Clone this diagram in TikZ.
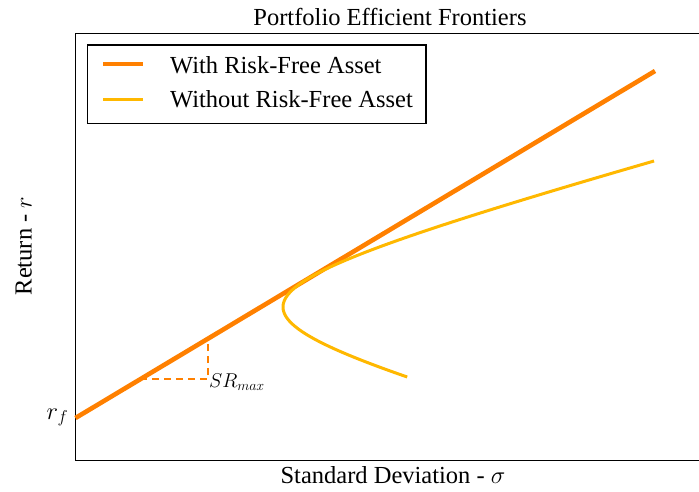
\documentclass[tikz,border=0pt]{standalone}
\usepackage{fix-cm}
\usepackage{fontspec}
\setmainfont{Liberation Serif}
\definecolor{lineorange}{RGB}{255,128,0}
\definecolor{lineyellow}{RGB}{255,184,0}
\begin{document}
\begin{tikzpicture}[x=1pt,y=-1pt,
  txt/.style={inner sep=0pt,font=\fontsize{24.5}{29}\selectfont},
  frontline/.style={lineorange,line width=4.6pt},
  hypline/.style={lineyellow,line width=3pt},
  spine/.style={black,line width=1.3pt},
  dashline/.style={lineorange,line width=1.6pt,dash pattern=on 7pt off 5pt}]
\useasboundingbox (0,0) rectangle (699,491);
% axes frame
\draw[spine] (699,33.3) -- (75.5,33.3) -- (75.5,460.6) -- (699,460.6);
% capital market line
\coordinate (rf) at (75.5,418);
\coordinate (cmlend) at (655,71);
\draw[frontline] (rf) -- (cmlend);
% efficient frontier (hyperbola)
\draw[hypline] plot[domain=-14.6:7,samples=120,smooth]
  ({75+10*sqrt(432.64+13.7*(\x)^2)},{307+10*\x});
% Sharpe ratio triangle
\coordinate (sa) at (140,379);
\coordinate (sb) at (208,379);
\coordinate (sc) at (208,339);
\draw[dashline] (sa) -- (sb) -- (sc);
\node[txt,anchor=base west,font=\fontsize{20}{24}\selectfont] (srlab) at (209,387) {$SR_{max}$};
% labels
\node[txt,anchor=base] (title) at (390,25) {Portfolio Efficient Frontiers};
\node[txt,anchor=base] (xlab) at (393,483) {Standard Deviation - $\sigma$};
\node[txt,anchor=base,rotate=90] (ylab) at (31.7,246) {Return - $r$};
\node[txt,anchor=base west] (rflab) at (46.5,419) {$r_f$};
% legend
\draw[spine] (87.7,45) rectangle (426,123.3);
\coordinate (l1a) at (103,64); \coordinate (l1b) at (143,64);
\coordinate (l2a) at (103,99); \coordinate (l2b) at (143,99);
\draw[frontline] (l1a) -- (l1b);
\draw[hypline] (l2a) -- (l2b);
\node[txt,anchor=base west] (leg1) at (170,73.3) {With Risk-Free Asset};
\node[txt,anchor=base west] (leg2) at (170,107.5) {Without Risk-Free Asset};
\end{tikzpicture}
\end{document}
